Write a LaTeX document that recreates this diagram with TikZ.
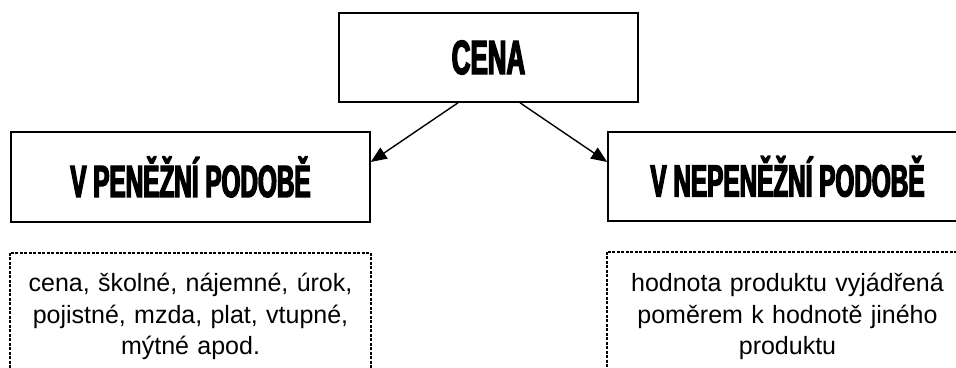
\documentclass[tikz,border=0pt]{standalone}
\usepackage{fontspec}
\setmainfont{Liberation Sans}
\newfontfamily\headfont[FakeStretch=0.54,FakeBold=3]{Liberation Sans Bold}
\usetikzlibrary{arrows.meta}

\tikzset{
	headbox/.style={draw, line width=1.6pt, inner sep=0pt,
		minimum width=359pt, minimum height=90pt,
		font=\headfont\fontsize{45}{45}\selectfont},
	notebox/.style={draw, line width=1.5pt, dash pattern=on 3pt off 1.5pt},
	notetext/.style={anchor=north, inner xsep=0pt, inner ysep=21pt,
		text width=355pt, align=center,
		font=\fontsize{25}{31.5}\selectfont},
	arrow/.style={line width=1.4pt, -{Triangle[length=16pt,width=13pt]}},
}

\begin{document}
\begin{tikzpicture}[x=1pt,y=-1pt]
	\useasboundingbox (0,0) rectangle (956,367);
	\clip (0,0) rectangle (956,367);
	\pgfmathsetmacro\lx{190.5}
	\pgfmathsetmacro\rx{787.5}
	% the three boxes
	\node[headbox, minimum width=299pt, minimum height=89pt,
		font=\headfont\fontsize{48}{48}\selectfont] (price) at (488.5,57.5) {CENA};
	\node[headbox] (money) at (\lx,177) {V PENĚŽNÍ PODOBĚ};
	\node[headbox, minimum height=89pt] (barter) at (\rx,176.5) {V NEPENĚŽNÍ PODOBĚ};
	\draw[arrow] ([xshift=-30.5pt]price.south) -- ([yshift=15pt]money.east);
	\draw[arrow] ([xshift=31.5pt]price.south) -- ([yshift=14.5pt]barter.west);
	% dashed notes below, cut off at the bottom
	\foreach \n in {money,barter}
		\draw[notebox] ([yshift=-30pt]\n.south west) rectangle ([yshift=-200pt]\n.south east);
	\node[notetext] (moneytext) at (\lx,252) {cena, školné, nájemné, úrok,\\ pojistné, mzda, plat, vtupné,\\ mýtné apod.};
	\node[notetext] (bartertext) at (\rx,252) {hodnota produktu vyjádřená\\ poměrem k hodnotě jiného\\ produktu};
\end{tikzpicture}
\end{document}
